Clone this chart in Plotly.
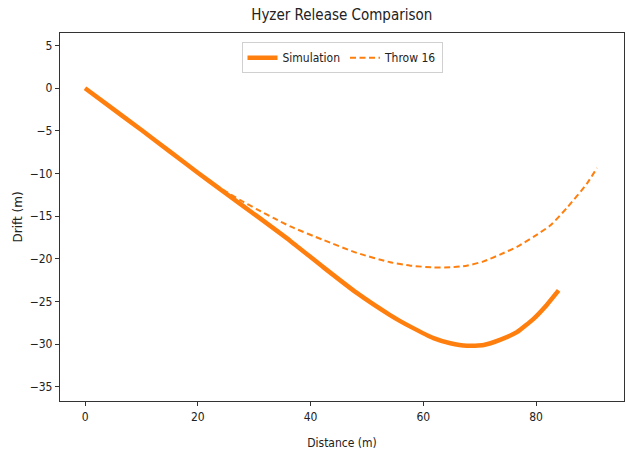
import plotly.graph_objects as go

# Simulated flight path (distance vs drift, metres)
sim_x = [0, 5, 10, 15, 20, 24.5, 30.5, 36.4, 42.3, 48.2, 54.1, 55.9, 57.7, 61.8, 64.8, 67.7,
         70.7, 73.6, 76.6, 79.6, 81.9, 84.0]
sim_y = [0, -2.45, -4.9, -7.4, -9.9, -12.1, -15.0, -17.9, -21.0, -24.0, -26.6, -27.3, -27.95,
         -29.3, -29.9, -30.2, -30.1, -29.5, -28.6, -27.0, -25.4, -23.7]

# Measured path for throw 16
thr_x = [0, 5, 10, 15, 20, 22.5, 24.5, 27.5, 30.5, 33.4, 36.4, 42.3, 48.2, 54.1, 57.7, 61.8,
         64.8, 67.7, 70.7, 73.6, 76.6, 79.6, 82.5, 85.5, 89.0, 90.8]
thr_y = [0, -2.45, -4.9, -7.4, -9.9, -11.0, -11.9, -13.1, -14.2, -15.2, -16.2, -17.8, -19.3,
         -20.4, -20.8, -21.0, -21.0, -20.8, -20.3, -19.5, -18.6, -17.4, -16.1, -14.0,
         -11.2, -9.35]

x_ticks = [0, 20, 40, 60, 80]
y_ticks = [5, 0, -5, -10, -15, -20, -25, -30, -35]

ORANGE = "#ff7f0e"
FONT = "DejaVu Sans Condensed, Liberation Sans Narrow, DejaVu Sans"

fig = go.Figure()
fig.add_trace(go.Scatter(
    x=sim_x, y=sim_y, name="Simulation", mode="lines",
    line=dict(color=ORANGE, width=4.5, shape="spline", smoothing=0.5),
))
fig.add_trace(go.Scatter(
    x=thr_x, y=thr_y, name="Throw 16", mode="lines",
    line=dict(color=ORANGE, width=2, dash="6px,3.5px", shape="spline", smoothing=0.6),
))

axis_common = dict(
    showline=True, mirror=True, linecolor="#333333", linewidth=1.3,
    ticks="outside", ticklen=4, tickcolor="#333333", tickwidth=1,
    showgrid=False, zeroline=False,
    tickfont=dict(size=12, color="#222222", family=FONT),
)

fig.update_layout(
    width=626, height=459,
    margin=dict(l=60, r=2, t=33, b=58),
    paper_bgcolor="white", plot_bgcolor="white",
    font=dict(family=FONT, color="#222222"),
    title=dict(text="Hyzer Release Comparison", x=0.546, xanchor="center",
               y=0.967, yanchor="middle", font=dict(size=15, family=FONT, color="#222222")),
    xaxis=dict(range=[-4.45, 95.6], tickvals=x_ticks,
               title=dict(text="Distance (m)", font=dict(size=12, family=FONT), standoff=16),
               **axis_common),
    yaxis=dict(range=[-36.67, 6.48], tickvals=y_ticks,
               ticktext=[str(v).replace("-", "\u2212") for v in y_ticks],
               title=dict(text="Drift (m)", font=dict(size=12, family="DejaVu Sans"), standoff=4),
               **axis_common),
    legend=dict(orientation="h", x=0.5, xanchor="center", y=0.975, yanchor="top",
                bordercolor="#d0d0d0", borderwidth=1, bgcolor="rgba(255,255,255,0.85)",
                font=dict(size=12, family=FONT), itemwidth=30),
    showlegend=True,
)

fig.write_html("out.html")
